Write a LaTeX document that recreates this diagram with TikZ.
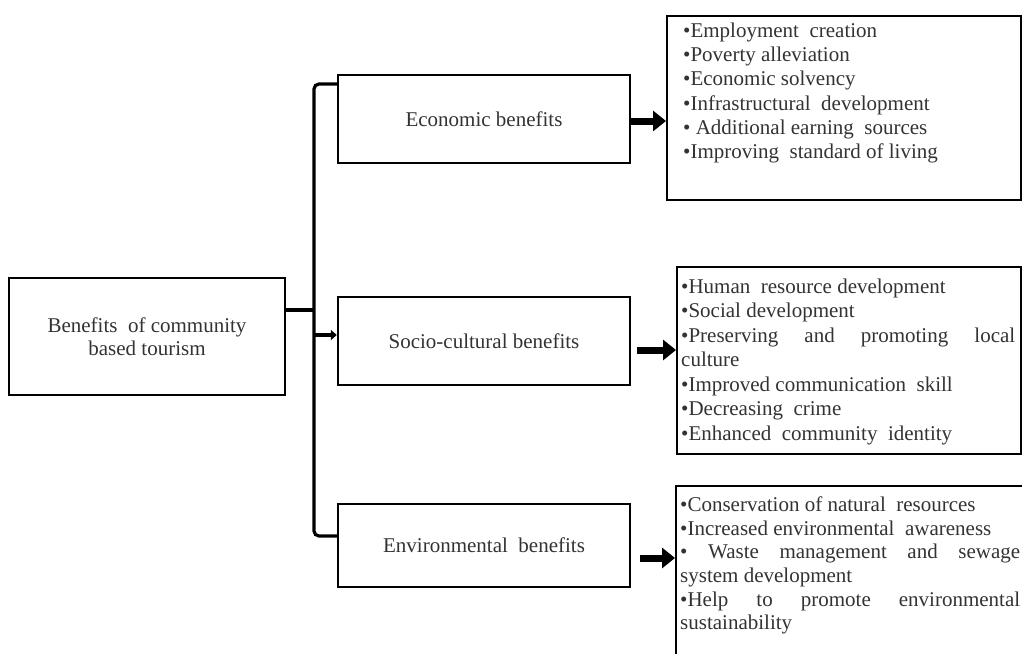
\documentclass[tikz,border=0pt]{standalone}
\usepackage{fontspec}
\setmainfont{Liberation Serif}
\usetikzlibrary{arrows.meta}
\begin{document}
\begin{tikzpicture}[x=1pt,y=-1pt,
  box/.style={draw=black, line width=2.4pt, inner sep=0pt, align=center,
    font=\fontsize{21}{23}\selectfont, text=black!80},
  frame/.style={draw=black, line width=2.4pt, inner sep=0pt, anchor=north west},
  itemtext/.style={inner sep=0pt, anchor=north west, align=left, text=black!80},
  brk/.style={line width=3.2pt, rounded corners=5pt},
  bigarrow/.style={line width=7pt, -{Triangle[length=13pt,width=20pt]}},
  smallarrow/.style={line width=4pt, -{Triangle[length=6pt,width=10pt]}}]
\useasboundingbox (0,0) rectangle (1022,653);
\fill[white] (0,0) rectangle (1022,653);

% left root box
\node[box, minimum width=276pt, minimum height=117pt] (root) at (147,336.5)
  {Benefits\ \ of community\\based tourism};

% middle boxes
\node[box, minimum width=292pt, minimum height=88pt] (econ) at (484,119) {Economic benefits};
\node[box, minimum width=292pt, minimum height=88pt] (socio) at (484,341) {Socio-cultural benefits};
\node[box, minimum width=292pt, minimum height=83pt] (env) at (484,545.5) {Environmental\ \ benefits};

% right boxes
\node[frame, minimum width=354pt, minimum height=184pt] (r1) at (666,15) {};
\node[frame, minimum width=344pt, minimum height=187pt] (r2) at (676,266) {};
\node[frame, minimum width=360pt, minimum height=250pt] (r3) at (675,485) {};

\node[itemtext, font=\fontsize{21}{24.2}\selectfont] (t1) at (683,22.7) {%
•Employment\ \ creation\\
•Poverty alleviation\\
•Economic solvency\\
•Infrastructural\ \ development\\
• Additional earning\ \ sources\\
•Improving\ \ standard of living};

\node[itemtext, font=\fontsize{21}{24.5}\selectfont] (t2) at (681,278.7) {%
•Human\ \ resource development\\
•Social development\\
\makebox[334pt][s]{•Preserving and promoting local}\\
culture\\
•Improved communication\ \ skill\\
•Decreasing\ \ crime\\
•Enhanced\ \ community\ \ identity};

\node[itemtext, font=\fontsize{21}{23.6}\selectfont] (t3) at (680,496.7) {%
•Conservation of natural\ \ resources\\
•Increased environmental\ \ awareness\\
\makebox[340pt][s]{• Waste management and sewage}\\
system development\\
\makebox[340pt][s]{•Help to promote environmental}\\
sustainability};

% bracket
\coordinate (bt) at (314,84);
\coordinate (bb) at (314,536);
\coordinate (j) at (314,310);
\coordinate (ja) at (314,335);
\draw[brk] (bt -| econ.west) -- (bt) -- (bb) -- (bb -| env.west);
\draw[brk] (root.east |- j) -- (j);
\draw[smallarrow] (ja) -- (ja -| socio.west);

% big arrows
\coordinate (a1) at (630,121);
\coordinate (a2) at (637,350);
\coordinate (a3) at (640,558);
\draw[bigarrow] (a1) -- (a1 -| r1.west);
\draw[bigarrow] (a2) -- (a2 -| r2.west);
\draw[bigarrow] (a3) -- (a3 -| r3.west);
\end{tikzpicture}
\end{document}
